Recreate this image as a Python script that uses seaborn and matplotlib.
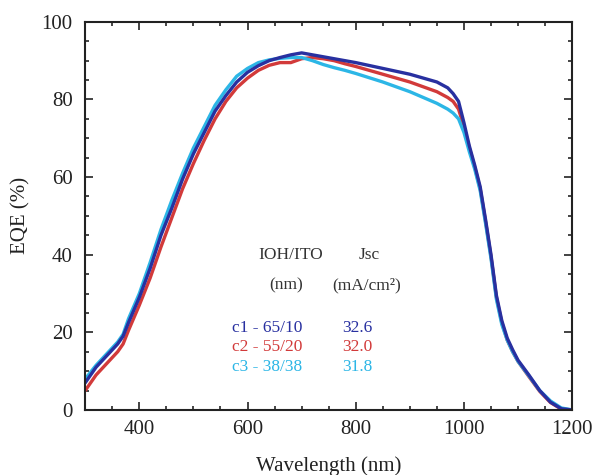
import numpy as np
import pandas as pd
import seaborn as sns
import matplotlib.pyplot as plt
from matplotlib.ticker import MultipleLocator

wavelength = [300, 320, 340, 360, 370, 380, 400, 420, 440, 460, 480, 500, 520, 540,
              560, 580, 600, 620, 640, 660, 680, 700, 720, 740, 760, 780, 800, 850,
              900, 950, 970, 980, 990, 1000, 1010, 1020, 1030, 1040, 1050, 1060, 1070,
              1080, 1090, 1100, 1120, 1140, 1160, 1180, 1200]

eqe_c1 = [7, 11, 14, 17, 19, 22.5, 29, 36.5, 45, 52, 59.5, 66, 71.5, 77,
          81, 84.5, 87, 88.7, 90, 90.8, 91.5, 92, 91.5, 91, 90.5, 90, 89.5, 88,
          86.5, 84.5, 83, 81.5, 79.5, 74, 68, 63, 57.5, 49, 40, 29.5, 23,
          18.5, 15.5, 12.8, 9, 5, 2, 0.3, 0]
eqe_c2 = [5, 9, 12, 15, 17, 20.5, 27, 34, 42, 49.5, 57, 63.5, 69.5, 75,
          79.5, 83, 85.5, 87.5, 88.8, 89.5, 89.5, 90.5, 90.8, 90.5, 90, 89.2, 88.5, 86.5,
          84.5, 82, 80.5, 79.5, 77.5, 73, 67.5, 62.5, 57, 48.5, 39.5, 29, 22.5,
          18, 15, 12.5, 8.6, 4.8, 1.9, 0.2, 0]
eqe_c3 = [8, 11.5, 14.5, 17.5, 19.5, 23.5, 30, 38, 46.5, 54, 61, 67.5, 73, 78.5,
          82.5, 86, 88, 89.5, 90.2, 90.6, 90.8, 90.8, 90, 89, 88.2, 87.5, 86.7, 84.5,
          82, 79, 77.5, 76.5, 75, 71.5, 66.5, 62, 56.5, 48, 39, 28.5, 22,
          18, 15, 12.5, 8.8, 5, 2.3, 0.5, 0]

devices = ["c1 - 65/10", "c2 - 55/20", "c3 - 38/38"]
jsc = ["32.6", "32.0", "31.8"]
colors = {"c1 - 65/10": "#2830a0", "c2 - 55/20": "#d23a3a", "c3 - 38/38": "#2cb6e6"}

df = pd.concat([
    pd.DataFrame({"Wavelength": wavelength, "EQE": vals, "Device": name})
    for name, vals in zip(devices, [eqe_c1, eqe_c2, eqe_c3])
])

sns.set_style("ticks")
plt.rcParams['font.family'] = ['Liberation Serif', 'DejaVu Serif']

fig = plt.figure(figsize=(5.96, 4.75), dpi=100)
ax = fig.add_axes([0.143, 0.137, 0.817, 0.817])

# draw red, cyan, then blue on top
order = [devices[1], devices[2], devices[0]]
for name in order:
    sns.lineplot(data=df[df["Device"] == name], x="Wavelength", y="EQE",
                 color=colors[name], linewidth=2.4, ax=ax, legend=False, sort=True)

ax.set_xlim(300, 1200)
ax.set_ylim(0, 100)
ax.set_xticks([400, 600, 800, 1000, 1200])
ax.set_yticks([0, 20, 40, 60, 80, 100])
ax.xaxis.set_minor_locator(MultipleLocator(50))
ax.yaxis.set_minor_locator(MultipleLocator(5))
ax.tick_params(which='both', direction='in', top=True, right=True, width=1.2)
ax.tick_params(which='major', length=6, labelsize=15, colors='#222222')
ax.tick_params(axis='x', which='major', pad=7)
ax.tick_params(axis='y', which='major', pad=9)
ax.tick_params(which='minor', length=3)
for s in ax.spines.values():
    s.set_linewidth(1.5)
    s.set_color('#222222')

ax.set_xlabel("Wavelength (nm)", fontsize=15, labelpad=13, color='#222222')
ax.set_ylabel("EQE (%)", fontsize=15, labelpad=8, color='#222222')

# annotation table
ax.text(680, 40, "IOH/ITO", ha='center', va='center', fontsize=12.5, color='#333333')
ax.text(825, 40, "Jsc", ha='center', va='center', fontsize=12.5, color='#333333')
ax.text(672, 32, "(nm)", ha='center', va='center', fontsize=12.5, color='#333333')
ax.text(820, 32, "(mA/cm²)", ha='center', va='center', fontsize=12.5, color='#333333')
for i, (name, j) in enumerate(zip(devices, jsc)):
    yy = 21.2 - i * 5.1
    ax.text(636, yy, name, ha='center', va='center', fontsize=12.5, color=colors[name])
    ax.text(803, yy, j, ha='center', va='center', fontsize=12.5, color=colors[name])

fig.savefig("out.png", dpi=100)
